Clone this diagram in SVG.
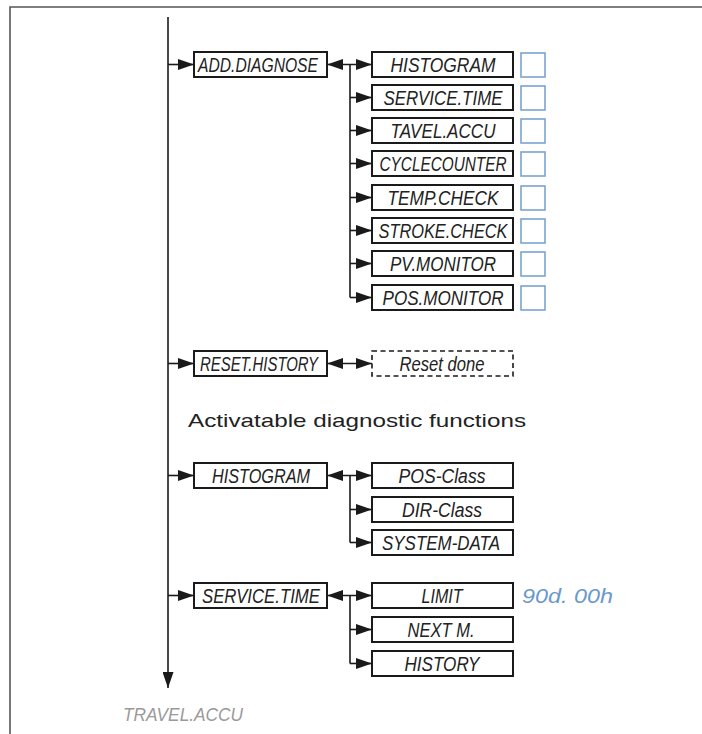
<svg xmlns="http://www.w3.org/2000/svg" width="702" height="734" viewBox="0 0 702 734">
<defs>
<marker id="ah" viewBox="0 0 16 11" refX="16" refY="5.5" markerWidth="16" markerHeight="11" markerUnits="userSpaceOnUse" orient="auto-start-reverse">
<path d="M0,0 L16,5.5 L0,11 z" fill="#1a1a1a"/>
</marker>
<style>
.frame{fill:none;stroke:#555;stroke-width:1.6}
.box{fill:#fff;stroke:#1a1a1a;stroke-width:2}
.dbox{fill:#fff;stroke:#1a1a1a;stroke-width:1.6;stroke-dasharray:5 3.5}
.sq{fill:#fff;stroke:#7ba3d3;stroke-width:1.6}
.ln{fill:none;stroke:#1a1a1a;stroke-width:1.6}
.arr{fill:none;stroke:#1a1a1a;stroke-width:1.6;marker-end:url(#ah)}
.darr{fill:none;stroke:#1a1a1a;stroke-width:1.6;marker-end:url(#ah);marker-start:url(#ah)}
.t{font-family:"Liberation Sans",Arial,sans-serif;font-style:italic;font-size:20.5px;fill:#222;text-anchor:middle}
.plain{font-family:"Liberation Sans",Arial,sans-serif;font-size:19px;fill:#222}
.blue{font-family:"Liberation Sans",Arial,sans-serif;font-style:italic;font-size:20px;fill:#6b98cc}
.gray{font-family:"Liberation Sans",Arial,sans-serif;font-style:italic;font-size:18px;fill:#9a9a9a}
</style>
</defs>
<rect width="702" height="734" fill="#fff"/>
<path class="frame" d="M10,734 V7 H702"/>

<g id="connectors">
<path class="arr" d="M168,17 V688"/>
<path class="arr" d="M168,64.5 H194"/>
<path class="darr" d="M327,64.5 H372"/>
<path class="ln" d="M350,64.5 V297.5"/>
<path class="arr" d="M350,97.5 H372"/>
<path class="arr" d="M350,130.5 H372"/>
<path class="arr" d="M350,163.5 H372"/>
<path class="arr" d="M350,197.5 H372"/>
<path class="arr" d="M350,230.5 H372"/>
<path class="arr" d="M350,263.5 H372"/>
<path class="arr" d="M350,297.5 H372"/>
<path class="arr" d="M168,363.5 H194"/>
<path class="darr" d="M327,363.5 H372"/>
<path class="arr" d="M168,475.5 H194"/>
<path class="darr" d="M327,475.5 H372"/>
<path class="ln" d="M350,475.5 V542.5"/>
<path class="arr" d="M350,509.5 H372"/>
<path class="arr" d="M350,542.5 H372"/>
<path class="arr" d="M168,595.5 H194"/>
<path class="darr" d="M327,595.5 H372"/>
<path class="ln" d="M350,595.5 V663.5"/>
<path class="arr" d="M350,629.5 H372"/>
<path class="arr" d="M350,663.5 H372"/>
</g>

<g id="add-diagnose"><rect class="box" x="194" y="52" width="133" height="25"/><text class="t" x="258" y="72" textLength="120" lengthAdjust="spacingAndGlyphs">ADD.DIAGNOSE</text></g>

<g id="n-histogram"><rect class="box" x="372" y="52" width="141" height="25"/><text class="t" x="443" y="72" textLength="105" lengthAdjust="spacingAndGlyphs">HISTOGRAM</text><rect class="sq" x="521" y="53" width="24" height="24"/></g>
<g id="n-servicetime"><rect class="box" x="372" y="85" width="141" height="25"/><text class="t" x="443" y="105" textLength="119" lengthAdjust="spacingAndGlyphs">SERVICE.TIME</text><rect class="sq" x="521" y="86" width="24" height="24"/></g>
<g id="n-tavelaccu"><rect class="box" x="372" y="118" width="141" height="25"/><text class="t" x="443" y="138" textLength="105" lengthAdjust="spacingAndGlyphs">TAVEL.ACCU</text><rect class="sq" x="521" y="119" width="24" height="24"/></g>
<g id="n-cyclecounter"><rect class="box" x="372" y="151" width="141" height="25"/><text class="t" x="443" y="171" textLength="127" lengthAdjust="spacingAndGlyphs">CYCLECOUNTER</text><rect class="sq" x="521" y="152" width="24" height="24"/></g>
<g id="n-tempcheck"><rect class="box" x="372" y="185" width="141" height="25"/><text class="t" x="443" y="205" textLength="111" lengthAdjust="spacingAndGlyphs">TEMP.CHECK</text><rect class="sq" x="521" y="186" width="24" height="24"/></g>
<g id="n-strokecheck"><rect class="box" x="372" y="218" width="141" height="25"/><text class="t" x="443" y="238" textLength="129" lengthAdjust="spacingAndGlyphs">STROKE.CHECK</text><rect class="sq" x="521" y="219" width="24" height="24"/></g>
<g id="n-pvmonitor"><rect class="box" x="372" y="251" width="141" height="25"/><text class="t" x="443" y="271" textLength="106" lengthAdjust="spacingAndGlyphs">PV.MONITOR</text><rect class="sq" x="521" y="252" width="24" height="24"/></g>
<g id="n-posmonitor"><rect class="box" x="372" y="285" width="141" height="25"/><text class="t" x="443" y="305" textLength="121" lengthAdjust="spacingAndGlyphs">POS.MONITOR</text><rect class="sq" x="521" y="286" width="24" height="24"/></g>

<g id="reset-history"><rect class="box" x="194" y="351" width="133" height="25"/><text class="t" x="259" y="371" textLength="118" lengthAdjust="spacingAndGlyphs">RESET.HISTORY</text></g>
<g id="reset-done"><rect class="dbox" x="372" y="351" width="141" height="25"/><text class="t" x="442" y="371" textLength="85" lengthAdjust="spacingAndGlyphs">Reset done</text></g>

<text class="plain" x="188" y="427" textLength="338" lengthAdjust="spacingAndGlyphs">Activatable diagnostic functions</text>

<g id="histogram"><rect class="box" x="194" y="463" width="133" height="25"/><text class="t" x="261" y="483" textLength="98" lengthAdjust="spacingAndGlyphs">HISTOGRAM</text></g>
<g id="pos-class"><rect class="box" x="372" y="463" width="141" height="25"/><text class="t" x="442" y="483" textLength="87" lengthAdjust="spacingAndGlyphs">POS-Class</text></g>
<g id="dir-class"><rect class="box" x="372" y="497" width="141" height="25"/><text class="t" x="442" y="517" textLength="80" lengthAdjust="spacingAndGlyphs">DIR-Class</text></g>
<g id="system-data"><rect class="box" x="372" y="530" width="141" height="25"/><text class="t" x="441" y="550" textLength="118" lengthAdjust="spacingAndGlyphs">SYSTEM-DATA</text></g>

<g id="service-time"><rect class="box" x="194" y="583" width="133" height="25"/><text class="t" x="261" y="603" textLength="118" lengthAdjust="spacingAndGlyphs">SERVICE.TIME</text></g>
<g id="limit"><rect class="box" x="372" y="583" width="141" height="25"/><text class="t" x="442" y="603" textLength="41" lengthAdjust="spacingAndGlyphs">LIMIT</text></g>
<text class="blue" x="522" y="603" textLength="91" lengthAdjust="spacingAndGlyphs">90d. 00h</text>
<g id="next-m"><rect class="box" x="372" y="617" width="141" height="25"/><text class="t" x="441" y="637" textLength="67" lengthAdjust="spacingAndGlyphs">NEXT M.</text></g>
<g id="history"><rect class="box" x="372" y="651" width="141" height="25"/><text class="t" x="442" y="671" textLength="75" lengthAdjust="spacingAndGlyphs">HISTORY</text></g>

<text class="gray" x="123" y="721" textLength="120" lengthAdjust="spacingAndGlyphs">TRAVEL.ACCU</text>
</svg>
